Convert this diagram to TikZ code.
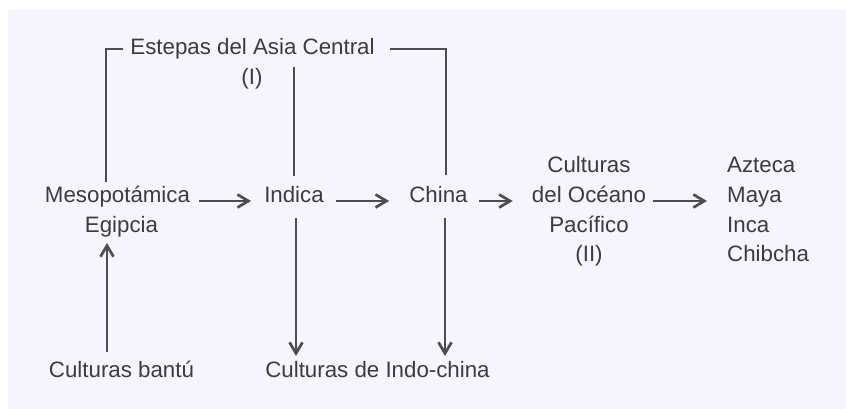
\documentclass[tikz,border=0pt]{standalone}
\usepackage{fontspec}
\setmainfont{Liberation Sans}
\usetikzlibrary{arrows.meta,calc}
\definecolor{bgc}{HTML}{F6F4FC}
\definecolor{txt}{HTML}{3C3C3C}
\definecolor{lnc}{HTML}{4E4E4E}
\begin{document}
\begin{tikzpicture}[x=1pt,y=1pt,
  lbl/.style={inner sep=0pt,anchor=base,text=txt,font=\fontsize{22.3}{30}\selectfont},
  lblw/.style={lbl,anchor=base west},
  ln/.style={draw=lnc,line width=2.7pt},
  arr/.style={ln,-{Straight Barb[length=11pt,width=13pt,line width=2.7pt]}}]
\useasboundingbox (0,0) rectangle (846,409);
\fill[white] (0,0) rectangle (846,409);
\fill[bgc] (8,0) rectangle (846,399);
% nodes
\node[lbl] (estepas) at (252.5,354) {Estepas del Asia Central};
\node[lbl] (I) at (252,324) {(I)};
\node[lbl] (meso) at (117.5,206) {Mesopotámica};
\node[lbl] (egipcia) at (121.5,176) {Egipcia};
\node[lbl] (indica) at (294,206) {Indica};
\node[lbl] (china) at (438.5,206) {China};
\node[lbl] (culturas) at (589,236) {Culturas};
\node[lbl] (oceano) at (589,206) {del Océano};
\node[lbl] (pacifico) at (589,176) {Pacífico};
\node[lbl] (II) at (589,147) {(II)};
\node[lblw] (azteca) at (727,236) {Azteca};
\node[lblw] (maya) at (727,206) {Maya};
\node[lblw] (inca) at (727,176) {Inca};
\node[lblw] (chibcha) at (727,147) {Chibcha};
\node[lbl] (bantu) at (121.5,31) {Culturas bantú};
\node[lbl] (indochina) at (377.5,31) {Culturas de Indo-china};
% bracket lines
\draw[ln] ($(estepas.base west)+(-7,6)$) -| ($(meso.base)+(-11.5,21)$);
\draw[ln] ($(estepas.base east)+(15,6)$) -| ($(china.base)+(7.5,28)$);
\draw[ln] ($(indica.base)+(0,136)$) -- ($(indica.base)+(0,27)$);
% horizontal arrows
\draw[arr] ($(meso.base east)+(9,2)$) -- ($(indica.base west)+(-13,2)$);
\draw[arr] ($(indica.base east)+(12,2)$) -- ($(china.base west)+(-20,2)$);
\draw[arr] ($(china.base east)+(11,2)$) -- ($(oceano.base west)+(-19,2)$);
\draw[arr] ($(oceano.base east)+(7,2)$) -- ($(maya.base west)+(-20,2)$);
% vertical arrows
\draw[arr] ($(bantu.base)+(-14.5,26)$) -- ($(egipcia.base)+(-14.5,-10)$);
\draw[arr] ($(indica.base)+(2,-15)$) -- ($(indica.base |- indochina.base)+(2,22)$);
\draw[arr] ($(china.base)+(6.5,-15)$) -- ($(china.base |- indochina.base)+(6.5,22)$);
\end{tikzpicture}
\end{document}
